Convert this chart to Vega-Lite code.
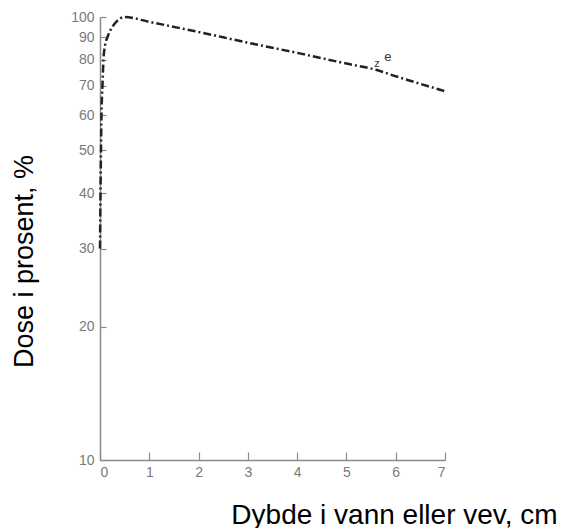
{
  "$schema": "https://vega.github.io/schema/vega-lite/v6.json",
  "width": 345,
  "height": 443,
  "autosize": "none",
  "padding": {"left": 100, "top": 17, "right": 127, "bottom": 68},
  "background": "white",
  "config": {
    "view": {"stroke": null},
    "axis": {
      "grid": false,
      "domainColor": "#8a8a8a",
      "domainWidth": 1.5,
      "tickColor": "#8a8a8a",
      "tickWidth": 1.2,
      "labelColor": "#7a7a7a",
      "labelFont": "Liberation Sans",
      "labelFontSize": 14,
      "titleFont": "Liberation Sans",
      "titleFontWeight": "normal",
      "titleColor": "#000000",
      "titleFontSize": 27
    }
  },
  "layer": [
    {
      "data": {"values": [
        {"depth": 0, "dose": 30},
        {"depth": 0.01, "dose": 40},
        {"depth": 0.02, "dose": 50},
        {"depth": 0.03, "dose": 60},
        {"depth": 0.05, "dose": 70},
        {"depth": 0.07, "dose": 80},
        {"depth": 0.1, "dose": 86},
        {"depth": 0.15, "dose": 90},
        {"depth": 0.25, "dose": 95},
        {"depth": 0.35, "dose": 98},
        {"depth": 0.5, "dose": 100},
        {"depth": 1, "dose": 97.5},
        {"depth": 1.6, "dose": 94.5},
        {"depth": 2, "dose": 92.5},
        {"depth": 3, "dose": 87.5},
        {"depth": 4, "dose": 83},
        {"depth": 5, "dose": 78.5},
        {"depth": 5.6, "dose": 76},
        {"depth": 6, "dose": 73.5},
        {"depth": 7, "dose": 68}
      ]},
      "mark": {"type": "line", "color": "#222222", "strokeWidth": 2.5, "strokeDash": [8, 3, 2, 3], "interpolate": "monotone", "clip": false},
      "encoding": {
        "x": {
          "field": "depth", "type": "quantitative",
          "scale": {"domain": [0, 7], "nice": false, "zero": false},
          "axis": {
            "values": [0, 1, 2, 3, 4, 5, 6, 7],
            "format": "d",
            "tickSize": -8,
            "labelPadding": 13,
            "title": "Dybde i vann eller vev, cm",
            "titleFontSize": 28,
            "titleX": 294,
            "titleY": 55,
            "titleAnchor": "middle",
            "titleBaseline": "middle"
          }
        },
        "y": {
          "field": "dose", "type": "quantitative",
          "scale": {"type": "log", "domain": [10, 100], "nice": false},
          "axis": {
            "values": [10, 20, 30, 40, 50, 60, 70, 80, 90, 100],
            "format": "d",
            "tickSize": -6,
            "labelPadding": 12,
            "title": "Dose i prosent, %",
            "titleX": -76,
            "titleY": 244,
            "titleAnchor": "middle",
            "titleBaseline": "middle",
            "titleAngle": -90
          }
        }
      }
    },
    {
      "data": {"values": [
        {"depth": 5.62, "dose": 78.5, "txt": "z", "sz": 11},
        {"depth": 5.84, "dose": 81.3, "txt": "e", "sz": 13}
      ]},
      "mark": {"type": "text", "color": "#333333", "font": "Liberation Sans", "baseline": "middle", "align": "center"},
      "encoding": {
        "x": {"field": "depth", "type": "quantitative"},
        "y": {"field": "dose", "type": "quantitative"},
        "text": {"field": "txt"},
        "size": {"field": "sz", "type": "quantitative", "scale": null, "legend": null}
      }
    }
  ]
}
